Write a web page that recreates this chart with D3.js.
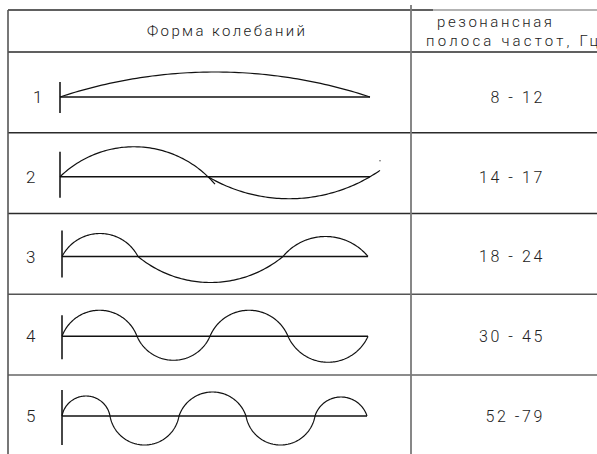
<!DOCTYPE html>
<html>
<head>
<meta charset="utf-8">
<script src="https://cdn.jsdelivr.net/npm/d3@7"></script>
<style>
  html, body { margin: 0; padding: 0; background: #fff; }
  svg { display: block; }
</style>
</head>
<body>
<svg id="chart" width="597" height="454"></svg>
<script>
// ---------- data ----------
const modes = [1, 2, 3, 4, 5];
const headerLeft = "Форма колебаний";
const headerRight = ["резонансная", "полоса частот, Гц"];
const bandLabels = ["8 - 12", "14 - 17", "18 - 24", "30 - 45", "52 -79"];
// node positions along the beam (length units, 0..310)
const zeroCrossings = [
  [0, 310],
  [0, 148, 310],
  [2, 78, 223, 308],
  [2, 77, 150, 228, 308],
  [2, 50, 119, 186, 255, 307]
];
// signed lobe amplitudes (same units, + is up)
const lobeAmplitudes = [
  [25],
  [30, -22],
  [23, -26, 20],
  [26, -24, 26, -26],
  [20, -29, 24, -29, 19]
];
// how far a lobe's arc runs past its right node
const lobeOvershoot = [
  [0],
  [7, 10],
  [0, 0, 0],
  [0, 0, 0, 0],
  [0, 0, 0, 0, 0]
];
// support mark extent above / below the beam
const supportUp = [15, 25, 26, 21, 26];
const supportDown = [16, 21, 21, 23, 29];
// stray point near end of mode 2
const strayPoints = [{ mode: 2, x: 320, a: 16 }];

// ---------- layout ----------
const svg = d3.select("#chart");
const W = 597;
const tableLeft = 8, colSep = 411, tableTop = 10, headBottom = 52;
const rowH = 80.75;
const ink = "#111";

const rowScale = d3.scaleLinear().domain([0, modes.length]).range([headBottom, headBottom + rowH * modes.length]);
const baseScale = d3.scalePoint().domain(modes).range([97, 416]);
const xScale = d3.scaleLinear().domain([0, 310]).range([60, 370]);
const yFor = m => d3.scaleLinear().domain([-40, 40]).range([baseScale(m) + 40, baseScale(m) - 40]);

// ---------- table grid ----------
const grid = svg.append("g").attr("fill", "none");
grid.append("line").attr("x1", tableLeft).attr("x2", 433).attr("y1", tableTop).attr("y2", tableTop)
  .attr("stroke", "#2b2b2b").attr("stroke-width", 1.6);
grid.append("line").attr("x1", 433).attr("x2", W).attr("y1", tableTop).attr("y2", tableTop)
  .attr("stroke", "#9a9a9a").attr("stroke-width", 1.4);
grid.append("line").attr("x1", tableLeft).attr("x2", W).attr("y1", headBottom).attr("y2", headBottom)
  .attr("stroke", "#2b2b2b").attr("stroke-width", 1.6);
const rowLineColors = ["#2b2b2b", "#2b2b2b", "#555", "#666"];
grid.selectAll("line.row").data(d3.range(1, modes.length)).join("line").attr("class", "row")
  .attr("x1", tableLeft).attr("x2", W)
  .attr("y1", i => rowScale(i)).attr("y2", i => rowScale(i))
  .attr("stroke", (i) => rowLineColors[i - 1]).attr("stroke-width", 1.6);
grid.append("line").attr("x1", tableLeft).attr("x2", tableLeft).attr("y1", tableTop).attr("y2", 454)
  .attr("stroke", "#555").attr("stroke-width", 1.6);
grid.append("line").attr("x1", colSep).attr("x2", colSep).attr("y1", 5).attr("y2", 454)
  .attr("stroke", "#7a7a7a").attr("stroke-width", 1.8);

// ---------- header text ----------
const txtFont = "Roboto, 'DejaVu Sans', sans-serif";
svg.append("text").attr("x", 147).attr("y", 36).attr("font-family", txtFont).attr("font-size", 15)
  .attr("font-weight", 300).attr("fill", "#1a1a1a").attr("textLength", 158).attr("lengthAdjust", "spacing").text(headerLeft);
svg.append("text").attr("x", 437).attr("y", 27).attr("font-family", txtFont).attr("font-size", 15)
  .attr("font-weight", 300).attr("fill", "#1a1a1a").attr("textLength", 115).attr("lengthAdjust", "spacing").text(headerRight[0]);
svg.append("text").attr("x", 426).attr("y", 46).attr("font-family", txtFont).attr("font-size", 15)
  .attr("font-weight", 300).attr("fill", "#1a1a1a").attr("letter-spacing", "3.2px").text(headerRight[1]);

// ---------- rows ----------
const line = d3.line().x(d => d[0]).y(d => d[1]);

function arcPoints(a, b, h, over, y) {
  const c = (b - a) / 2, xm = (a + b) / 2;
  const R = (c * c + h * h) / (2 * Math.abs(h));
  const s = Math.sign(h);
  const cy = h - s * R;
  const t0 = Math.asin((a - xm) / R), t1 = Math.asin(Math.min(1, (b + over - xm) / R));
  return d3.range(0, 81).map(k => {
    const t = t0 + (t1 - t0) * k / 80;
    const xv = xm + R * Math.sin(t);
    const yv = cy + s * R * Math.cos(t);
    return [xScale(xv), y(yv)];
  });
}

modes.forEach((m, i) => {
  const y = yFor(m);
  const g = svg.append("g");
  const nodes = zeroCrossings[i];
  // support mark
  g.append("line").attr("x1", xScale(nodes[0])).attr("x2", xScale(nodes[0]))
    .attr("y1", y(supportUp[i])).attr("y2", y(-supportDown[i]))
    .attr("stroke", "#333").attr("stroke-width", 1.8);
  // beam axis
  g.append("line").attr("x1", xScale(nodes[0])).attr("x2", xScale(nodes[nodes.length - 1]))
    .attr("y1", y(0)).attr("y2", y(0)).attr("stroke", ink).attr("stroke-width", 1.4);
  // mode shape lobes
  lobeAmplitudes[i].forEach((h, j) => {
    g.append("path")
      .attr("d", line(arcPoints(nodes[j], nodes[j + 1], h, lobeOvershoot[i][j], y)))
      .attr("fill", "none").attr("stroke", ink).attr("stroke-width", 1.2);
  });
  // mode number
  g.append("text").attr("x", m === 1 ? 33 : 26).attr("y", y(0)).attr("dy", "0.36em")
    .attr("font-family", txtFont).attr("font-size", 17).attr("font-weight", 300).attr("fill", "#222").text(m);
  // resonance band
  g.append("text").attr("x", 545).attr("y", y(0)).attr("dy", "0.36em").attr("text-anchor", "end")
    .attr("font-family", txtFont).attr("font-size", 16).attr("font-weight", 300).attr("letter-spacing", "2.6px")
    .attr("fill", "#222").text(bandLabels[i]);
});

strayPoints.forEach(p => {
  const y = yFor(p.mode);
  svg.append("circle").attr("cx", xScale(p.x)).attr("cy", y(p.a)).attr("r", 0.7).attr("fill", "#444");
});
</script>
</body>
</html>
